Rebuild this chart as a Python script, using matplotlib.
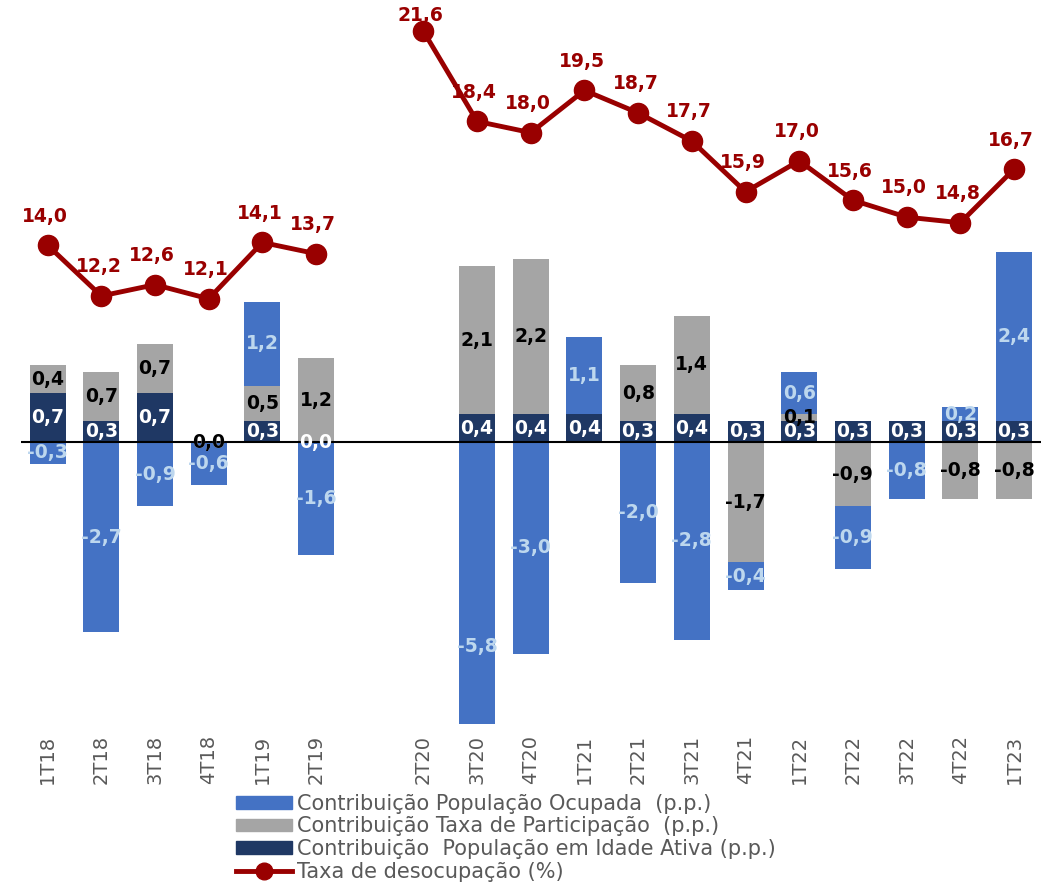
import numpy as np
import matplotlib.pyplot as plt
from matplotlib.patches import Patch
from matplotlib.lines import Line2D

plt.rcParams['font.family'] = ['DejaVu Sans']

nan = np.nan
quarters = ['1T18', '2T18', '3T18', '4T18', '1T19', '2T19', '', '2T20', '3T20', '4T20',
            '1T21', '2T21', '3T21', '4T21', '1T22', '2T22', '3T22', '4T22', '1T23']
# contribuicoes (p.p.)
ocupada = [-0.3, -2.7, -0.9, -0.6, 1.2, -1.6, nan, nan, -5.8, -3.0,
           1.1, -2.0, -2.8, -0.4, 0.6, -0.9, -0.8, 0.2, 2.4]
participacao = [0.4, 0.7, 0.7, 0.0, 0.5, 1.2, nan, nan, 2.1, 2.2,
                nan, 0.8, 1.4, -1.7, 0.1, -0.9, nan, -0.8, -0.8]
idade_ativa = [0.7, 0.3, 0.7, 0.0, 0.3, 0.0, nan, nan, 0.4, 0.4,
               0.4, 0.3, 0.4, 0.3, 0.3, 0.3, 0.3, 0.3, 0.3]
# taxa de desocupacao (%)
desocupacao = [14.0, 12.2, 12.6, 12.1, 14.1, 13.7, nan, 21.6, 18.4, 18.0,
               19.5, 18.7, 17.7, 15.9, 17.0, 15.6, 15.0, 14.8, 16.7]

c_blue = '#4472C4'
c_gray = '#A5A5A5'
c_navy = '#1F3864'
c_red = '#990000'


def fmt(v):
    return f"{v:.1f}".replace('.', ',')


fig = plt.figure(figsize=(10.63, 8.84), dpi=100)
ax = fig.add_axes([20.8 / 1063, 160 / 884, 1020 / 1063, 704 / 884])
x = np.arange(len(quarters))
width = 0.67

pos = np.zeros(len(x))
neg = np.zeros(len(x))
series = [(idade_ativa, c_navy, 'white'),
          (participacao, c_gray, 'black'),
          (ocupada, c_blue, '#BDD7EE')]
for vals, col, lab_col in series:
    v = np.array(vals, dtype=float)
    vv = np.nan_to_num(v)
    bottom = np.where(vv >= 0, pos, neg)
    ax.bar(x, vv, width, bottom=bottom, color=col, zorder=2)
    for i in range(len(x)):
        if np.isnan(v[i]):
            continue
        ax.text(x[i], bottom[i] + v[i] / 2, fmt(v[i]), ha='center', va='center',
                color=lab_col, fontsize=13.5, fontweight='bold', zorder=5, clip_on=False)
    pos = np.where(vv >= 0, pos + vv, pos)
    neg = np.where(vv < 0, neg + vv, neg)

ax.axhline(0, color='black', lw=1.5, zorder=3)
ax.set_ylim(-4, 6)
ax.set_xlim(-0.5, len(x) - 0.5)
ax.set_xticks(x)
ax.set_xticklabels(quarters, rotation=90, fontsize=14, color='#595959')
ax.tick_params(axis='x', length=0, pad=8)
ax.set_yticks([])
for s in ax.spines.values():
    s.set_visible(False)

ax2 = ax.twinx()
ax2.plot(x, desocupacao, color=c_red, lw=3.5, marker='o', markersize=14.5, zorder=4)
for i, v in enumerate(desocupacao):
    if np.isnan(v):
        continue
    dy = 11 if v > 21 else 21
    ax2.annotate(fmt(v), (x[i], v), xytext=(-2, dy), textcoords='offset points',
                 ha='center', va='center', color=c_red, fontsize=13.5, fontweight='bold')
ax2.set_ylim(-3, 22)
ax2.set_yticks([])
for s in ax2.spines.values():
    s.set_visible(False)

handles = [Patch(color=c_blue), Patch(color=c_gray), Patch(color=c_navy),
           Line2D([], [], color=c_red, lw=3.5, marker='o', markersize=12)]
labels = ['Contribuição População Ocupada  (p.p.)',
          'Contribuição Taxa de Participação  (p.p.)',
          'Contribuição  População em Idade Ativa (p.p.)',
          'Taxa de desocupação (%)']
fig.legend(handles, labels, loc='upper left', bbox_to_anchor=(236 / 1063, 1 - 794 / 884),
           frameon=False, fontsize=15, labelcolor='#595959', handlelength=2.7,
           handleheight=0.55, handletextpad=0.25, labelspacing=0.12, borderaxespad=0,
           borderpad=0)

fig.savefig('out.png', dpi=100)
